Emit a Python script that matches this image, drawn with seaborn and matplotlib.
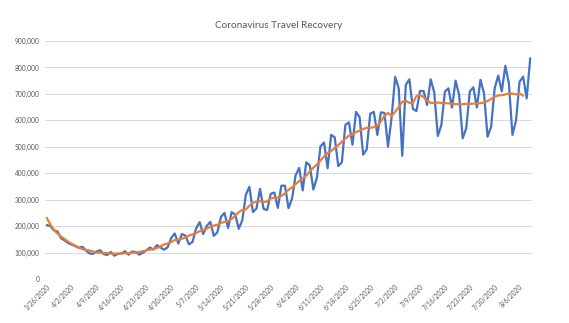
import numpy as np
import pandas as pd
import matplotlib
matplotlib.use("Agg")
import matplotlib.pyplot as plt
import seaborn as sns

# ---- data (thousands of travellers per day, 3/26/2020 .. 8/9/2020) ----
start_date = "2020-03-26"
daily = [
    204, 200, 184, 180, 154, 146, 136,
    130, 124, 118, 122, 108, 97, 95,
    104, 109, 94, 91, 102, 88, 95,
    96, 105, 92, 104, 102, 92, 99,
    108, 119, 111, 128, 119, 111, 120,
    155, 172, 134, 170, 164, 131, 140,
    191, 215, 170, 201, 216, 163, 177,
    235, 250, 193, 253, 244, 190, 222,
    318, 349, 253, 267, 341, 265, 261,
    322, 327, 269, 353, 353, 268, 304,
    392, 420, 335, 441, 430, 338, 384,
    502, 516, 419, 545, 536, 427, 441,
    583, 592, 508, 632, 612, 470, 490,
    625, 632, 545, 630, 628, 500, 610,
    764, 721, 466, 734, 755, 643, 635,
    711, 711, 658, 755, 706, 541, 582,
    709, 721, 648, 750, 696, 532, 570,
    709, 725, 649, 753, 702, 538, 576,
    721, 769, 709, 806, 740, 545, 599,
    746, 765, 683, 835,
]
# 7-day moving average as drawn (ends a few days before the daily series)
average = [
    231, 206, 187, 172, 161, 151, 141,
    133, 126, 119, 113, 110, 108, 104,
    100, 99, 98, 98, 96, 96, 96,
    97, 97, 98, 99, 100, 102, 105,
    108, 111, 114, 117, 123, 131, 134,
    140, 147, 149, 152, 157, 164, 169,
    173, 181, 185, 190, 197, 202, 205,
    212, 216, 220, 227, 239, 253, 261,
    263, 277, 288, 293, 294, 291, 293,
    305, 307, 308, 314, 324, 337, 346,
    359, 370, 380, 391, 407, 421, 433,
    448, 463, 476, 484, 495, 506, 519,
    531, 542, 548, 555, 561, 567, 572,
    572, 574, 579, 596, 616, 628, 617,
    632, 650, 670, 674, 666, 665, 692,
    695, 688, 674, 666, 666, 667, 666,
    665, 664, 663, 661, 661, 661, 662,
    662, 663, 664, 665, 666, 673, 681,
    689, 694, 695, 698, 702, 701, 698,
    702, 693,
]
y_ticks = [0, 100000, 200000, 300000, 400000, 500000, 600000, 700000, 800000, 900000]
title = "Coronavirus Travel Recovery"

dates = pd.date_range(start_date, periods=len(daily), freq="D")
labels = [f"{d.month}/{d.day}/{d.year}" for d in dates]
idx = np.arange(len(daily))

df_daily = pd.DataFrame({"pos": idx, "value": np.array(daily) * 1000})
df_avg = pd.DataFrame({"pos": idx[:len(average)], "value": np.array(average) * 1000})

sns.set_theme(style="white")
plt.rcParams["font.family"] = ["Lato", "DejaVu Sans"]

W, H = 569, 323
fig = plt.figure(figsize=(W / 100, H / 100), dpi=100)
ax = fig.add_axes([45 / W, 44 / H, (532 - 45) / W, (282 - 44) / H])

gray_text = "#595959"
for yv in y_ticks:
    ax.axhline(yv, color="#D9D9D9", lw=0.7, zorder=0)

sns.lineplot(data=df_daily, x="pos", y="value", color="#4472C4", lw=1.6, ax=ax)
sns.lineplot(data=df_avg, x="pos", y="value", color="#ED7D31", lw=1.6, ax=ax)

ax.set_xlim(-0.5, len(daily) - 0.5)
ax.set_ylim(0, 900000)
ax.set_yticks(y_ticks)
ax.set_yticklabels([f"{v:,}" for v in y_ticks], fontsize=4.8, color=gray_text)
xt = idx[::7]
ax.set_xticks(xt)
ax.set_xticklabels([labels[i] for i in xt], rotation=45, ha="right",
                   rotation_mode="anchor", fontsize=4.8, color=gray_text)
ax.tick_params(axis="y", length=0, pad=4)
ax.tick_params(axis="x", length=0, pad=3)
ax.set_xlabel("")
ax.set_ylabel("")
for s in ax.spines.values():
    s.set_visible(False)

fig.text(279 / W, 1 - 26 / H, title, ha="center", va="center",
         fontsize=7.2, color=gray_text)

fig.savefig("out.png", dpi=100, facecolor="white")
